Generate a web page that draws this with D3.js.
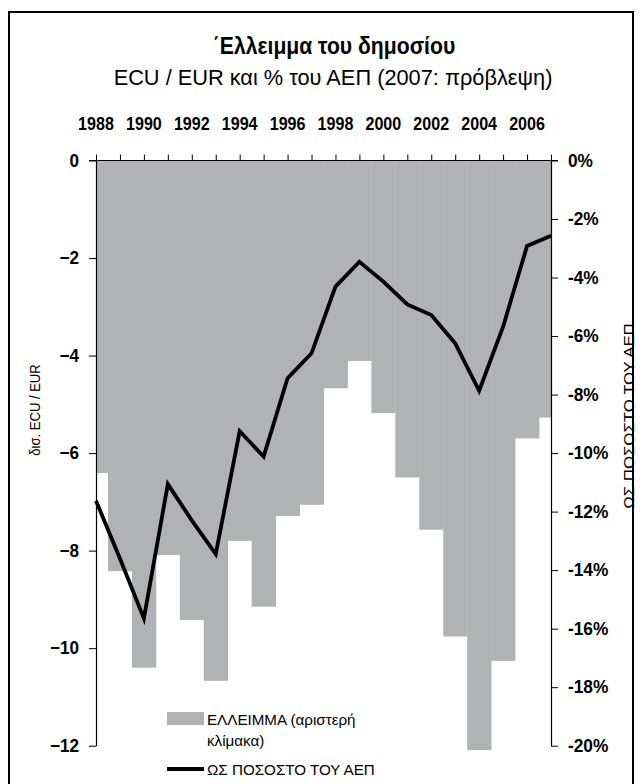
<!DOCTYPE html>
<html>
<head>
<meta charset="utf-8">
<script src="https://cdn.jsdelivr.net/npm/d3@7"></script>
<style>
  body { margin: 0; background: #fff; }
  text { font-family: "Liberation Sans", Arial, sans-serif; }
</style>
</head>
<body>
<div id="chart"></div>
<script>
/* DATA */
const years = d3.range(1988, 2008);
// deficit, bn ECU / EUR (left scale)
const deficit = [-6.41, -8.42, -10.4, -8.09, -9.42, -10.67, -7.8, -9.15, -7.29, -7.06,
  -4.67, -4.11, -5.18, -6.5, -7.57, -9.76, -12.09, -10.26, -5.7, -5.27];
// deficit as % of GDP (right scale)
const pctGdp = [-11.63, -13.6, -15.65, -11.06, -12.3, -13.45, -9.25, -10.12, -7.44, -6.59,
  -4.31, -3.46, -4.14, -4.92, -5.28, -6.25, -7.87, -5.68, -2.92, -2.57];
const yearLabels = [1988, 1990, 1992, 1994, 1996, 1998, 2000, 2002, 2004, 2006];
const leftTicks = [0, -2, -4, -6, -8, -10, -12];
const rightTicks = [0, -2, -4, -6, -8, -10, -12, -14, -16, -18, -20];

const width = 640, height = 784;
const plot = { left: 96, right: 551, top: 160.5, bottom: 745.7 };
const grey = "#b1b2b4";

// narrow/stretch the text horizontally (condensed look)
function squeeze(sel, sx) {
  sel.each(function () {
    const t = d3.select(this);
    const x = +t.attr("x") || 0, y = +t.attr("y") || 0;
    const prev = t.attr("transform") || "";
    t.attr("x", 0).attr("y", 0)
      .attr("transform", `${prev} translate(${x},${y}) scale(${sx},1)`);
  });
}

const svg = d3.select("#chart").append("svg")
  .attr("width", width)
  .attr("height", height);

// frame
svg.append("rect")
  .attr("x", 9).attr("y", 12)
  .attr("width", 624).attr("height", 800)
  .attr("fill", "none").attr("stroke", "#000").attr("stroke-width", 2);

// titles
svg.append("text")
  .attr("x", 334).attr("y", 54)
  .attr("text-anchor", "middle")
  .style("font-size", "23px").style("font-weight", "bold")
  .text("΄Ελλειμμα του δημοσίου")
  .call(squeeze, 0.92);
svg.append("text")
  .attr("x", 333).attr("y", 84.5)
  .attr("text-anchor", "middle")
  .style("font-size", "22px")
  .text("ECU / EUR και % του ΑΕΠ (2007: πρόβλεψη)")
  .call(squeeze, 0.99);

/* SCALES */
const xScale = d3.scaleLinear().domain([1988, 2007]).range([plot.left, plot.right]);
const step = xScale(1989) - xScale(1988);
const yLeft = d3.scaleLinear().domain([0, -12]).range([plot.top, plot.bottom]);
const yRight = d3.scaleLinear().domain([0, -20]).range([plot.top, plot.bottom]);

svg.append("clipPath").attr("id", "plotclip")
  .append("rect")
  .attr("x", plot.left).attr("y", plot.top - 1)
  .attr("width", plot.right - plot.left).attr("height", plot.bottom - plot.top + 20);

// bars
svg.append("g").attr("clip-path", "url(#plotclip)")
  .selectAll("rect")
  .data(years)
  .join("rect")
  .attr("x", (d) => xScale(d) - step / 2)
  .attr("width", step + 0.4)
  .attr("y", yLeft(0))
  .attr("height", (d, i) => yLeft(deficit[i]) - yLeft(0))
  .attr("fill", grey);

// line
const line = d3.line()
  .x((d) => xScale(d))
  .y((d, i) => yRight(pctGdp[i]));
svg.append("path")
  .datum(years)
  .attr("d", line)
  .attr("fill", "none")
  .attr("stroke", "#000")
  .attr("stroke-width", 3.8)
  .attr("stroke-linejoin", "miter");

/* AXES */
const axisTop = svg.append("g")
  .attr("transform", `translate(0,${plot.top})`)
  .call(d3.axisTop(xScale).tickValues(years).tickSize(6).tickFormat("").tickSizeOuter(0));
axisTop.select(".domain").attr("d", `M${plot.left - 7},0H${plot.right + 7}`).attr("stroke-width", 1.2);

svg.append("g")
  .selectAll("text")
  .data(yearLabels)
  .join("text")
  .attr("x", (d) => xScale(d))
  .attr("y", 130)
  .attr("text-anchor", "middle")
  .style("font-size", "18.5px").style("font-weight", "bold")
  .text((d) => d)
  .call(squeeze, 0.87);

const axisL = svg.append("g")
  .attr("transform", `translate(${plot.left},0)`)
  .call(d3.axisLeft(yLeft).tickValues(leftTicks).tickSize(7).tickSizeOuter(0).tickPadding(10));
axisL.select(".domain").attr("stroke-width", 1.2);
axisL.selectAll(".tick text")
  .style("font-size", "18px").style("font-weight", "bold")
  .attr("fill", "#000")
  .call(squeeze, 0.95);

const axisR = svg.append("g")
  .attr("transform", `translate(${plot.right},0)`)
  .call(d3.axisRight(yRight).tickValues(rightTicks).tickSize(7).tickSizeOuter(0).tickPadding(10)
    .tickFormat((d) => d + "%"));
axisR.select(".domain").attr("stroke-width", 1.2);
axisR.selectAll(".tick text")
  .style("font-size", "18px").style("font-weight", "bold")
  .attr("fill", "#000")
  .call(squeeze, 0.96);

// axis titles
svg.append("text")
  .attr("transform", "translate(40,410) rotate(-90)")
  .attr("text-anchor", "middle")
  .style("font-size", "14.5px")
  .text("δισ. ECU / EUR")
  .call(squeeze, 0.9);
svg.append("text")
  .attr("transform", "translate(634,416) rotate(-90)")
  .attr("text-anchor", "middle")
  .style("font-size", "15px")
  .text("ΩΣ ΠΟΣΟΣΤΟ ΤΟΥ ΑΕΠ")
  .call(squeeze, 1.12);

/* LEGEND */
const legend = svg.append("g").attr("transform", "translate(167,0)");
legend.append("rect")
  .attr("x", 0).attr("y", 712).attr("width", 37).attr("height", 13)
  .attr("fill", grey);
legend.append("line")
  .attr("x1", 0).attr("x2", 37).attr("y1", 769).attr("y2", 769)
  .attr("stroke", "#000").attr("stroke-width", 4);
legend.selectAll("text")
  .data([["ΕΛΛΕΙΜΜΑ (αριστερή", 724.5], ["κλίμακα)", 746], ["ΩΣ ΠΟΣΟΣΤΟ ΤΟΥ ΑΕΠ", 775]])
  .join("text")
  .attr("x", 40)
  .attr("y", (d) => d[1])
  .style("font-size", "15.5px")
  .text((d) => d[0])
  .call(squeeze, 0.98);
</script>
</body>
</html>
